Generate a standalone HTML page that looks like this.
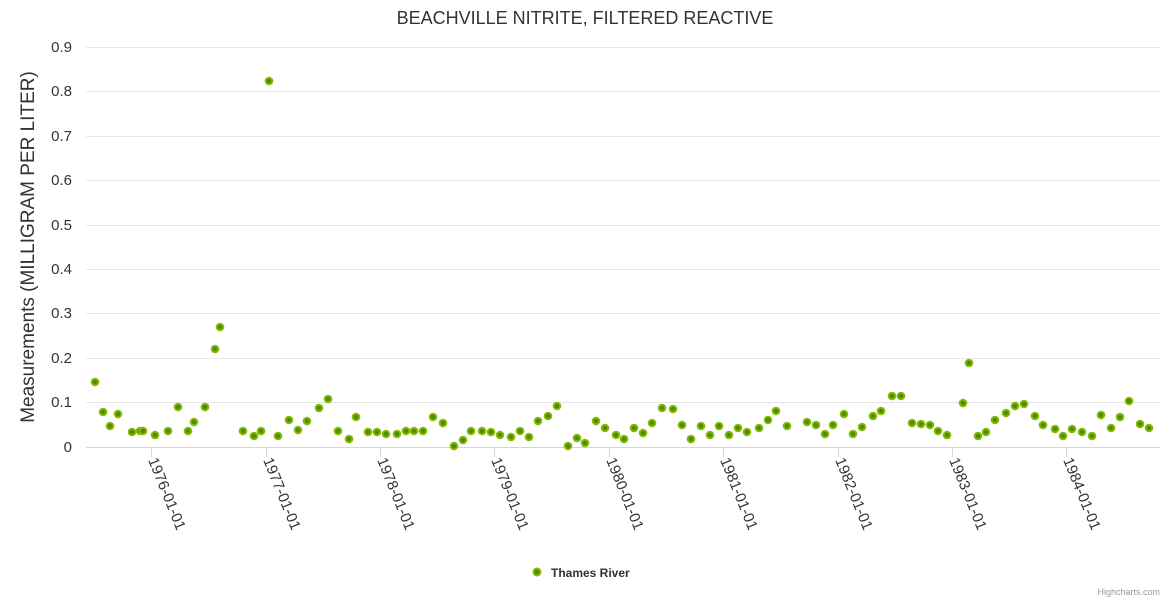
<!DOCTYPE html><html><head><style>body{margin:0;background:#fff}svg{display:block;font-family:"Liberation Sans",sans-serif}</style></head><body>
<svg width="1170" height="600" xmlns="http://www.w3.org/2000/svg">
<text x="585" y="24" text-anchor="middle" font-size="18" fill="#333">BEACHVILLE NITRITE, FILTERED REACTIVE</text>
<g stroke="#e6e6e6" stroke-width="1">
<line x1="86" x2="1160" y1="47.5" y2="47.5"/><line x1="86" x2="1160" y1="91.5" y2="91.5"/><line x1="86" x2="1160" y1="136.5" y2="136.5"/><line x1="86" x2="1160" y1="180.5" y2="180.5"/><line x1="86" x2="1160" y1="225.5" y2="225.5"/><line x1="86" x2="1160" y1="269.5" y2="269.5"/><line x1="86" x2="1160" y1="313.5" y2="313.5"/><line x1="86" x2="1160" y1="358.5" y2="358.5"/><line x1="86" x2="1160" y1="402.5" y2="402.5"/>
</g>
<line x1="86" x2="1160" y1="447.5" y2="447.5" stroke="#ccd6eb"/>
<g stroke="#ccd6eb"><line x1="151.5" x2="151.5" y1="447" y2="457"/><line x1="266.5" x2="266.5" y1="447" y2="457"/><line x1="380.5" x2="380.5" y1="447" y2="457"/><line x1="494.5" x2="494.5" y1="447" y2="457"/><line x1="609.5" x2="609.5" y1="447" y2="457"/><line x1="723.5" x2="723.5" y1="447" y2="457"/><line x1="838.5" x2="838.5" y1="447" y2="457"/><line x1="952.5" x2="952.5" y1="447" y2="457"/><line x1="1066.5" x2="1066.5" y1="447" y2="457"/></g>
<g font-size="15" fill="#333" text-anchor="end">
<text x="72" y="52">0.9</text><text x="72" y="96">0.8</text><text x="72" y="141">0.7</text><text x="72" y="185">0.6</text><text x="72" y="230">0.5</text><text x="72" y="274">0.4</text><text x="72" y="318">0.3</text><text x="72" y="363">0.2</text><text x="72" y="407">0.1</text><text x="72" y="452">0</text>
</g>
<text transform="translate(34,247) rotate(-90)" text-anchor="middle" font-size="19" fill="#333">Measurements (MILLIGRAM PER LITER)</text>
<g font-size="15" fill="#333">
<text transform="translate(148,460) rotate(68)">1976-01-01</text>
<text transform="translate(263,460) rotate(68)">1977-01-01</text>
<text transform="translate(377,460) rotate(68)">1978-01-01</text>
<text transform="translate(491,460) rotate(68)">1979-01-01</text>
<text transform="translate(606,460) rotate(68)">1980-01-01</text>
<text transform="translate(720,460) rotate(68)">1981-01-01</text>
<text transform="translate(835,460) rotate(68)">1982-01-01</text>
<text transform="translate(949,460) rotate(68)">1983-01-01</text>
<text transform="translate(1063,460) rotate(68)">1984-01-01</text>
</g>
<g fill="#4a8c00" stroke="#86b800" stroke-width="2">
<circle cx="95" cy="382" r="3.3"/><circle cx="103" cy="412" r="3.3"/><circle cx="110" cy="426" r="3.3"/><circle cx="118" cy="414" r="3.3"/><circle cx="132" cy="432" r="3.3"/><circle cx="140" cy="431" r="3.3"/><circle cx="143" cy="431" r="3.3"/><circle cx="155" cy="435" r="3.3"/><circle cx="168" cy="431" r="3.3"/><circle cx="178" cy="407" r="3.3"/><circle cx="188" cy="431" r="3.3"/><circle cx="194" cy="422" r="3.3"/><circle cx="205" cy="407" r="3.3"/><circle cx="215" cy="349" r="3.3"/><circle cx="220" cy="327" r="3.3"/><circle cx="243" cy="431" r="3.3"/><circle cx="254" cy="436" r="3.3"/><circle cx="261" cy="431" r="3.3"/><circle cx="269" cy="81" r="3.3"/><circle cx="278" cy="436" r="3.3"/><circle cx="289" cy="420" r="3.3"/><circle cx="298" cy="430" r="3.3"/><circle cx="307" cy="421" r="3.3"/><circle cx="319" cy="408" r="3.3"/><circle cx="328" cy="399" r="3.3"/><circle cx="338" cy="431" r="3.3"/><circle cx="349" cy="439" r="3.3"/><circle cx="356" cy="417" r="3.3"/><circle cx="368" cy="432" r="3.3"/><circle cx="377" cy="432" r="3.3"/><circle cx="386" cy="434" r="3.3"/><circle cx="397" cy="434" r="3.3"/><circle cx="406" cy="431" r="3.3"/><circle cx="414" cy="431" r="3.3"/><circle cx="423" cy="431" r="3.3"/><circle cx="433" cy="417" r="3.3"/><circle cx="443" cy="423" r="3.3"/><circle cx="454" cy="446" r="3.3"/><circle cx="463" cy="440" r="3.3"/><circle cx="471" cy="431" r="3.3"/><circle cx="482" cy="431" r="3.3"/><circle cx="491" cy="432" r="3.3"/><circle cx="500" cy="435" r="3.3"/><circle cx="511" cy="437" r="3.3"/><circle cx="520" cy="431" r="3.3"/><circle cx="529" cy="437" r="3.3"/><circle cx="538" cy="421" r="3.3"/><circle cx="548" cy="416" r="3.3"/><circle cx="557" cy="406" r="3.3"/><circle cx="568" cy="446" r="3.3"/><circle cx="577" cy="438" r="3.3"/><circle cx="585" cy="443" r="3.3"/><circle cx="596" cy="421" r="3.3"/><circle cx="605" cy="428" r="3.3"/><circle cx="616" cy="435" r="3.3"/><circle cx="624" cy="439" r="3.3"/><circle cx="634" cy="428" r="3.3"/><circle cx="643" cy="433" r="3.3"/><circle cx="652" cy="423" r="3.3"/><circle cx="662" cy="408" r="3.3"/><circle cx="673" cy="409" r="3.3"/><circle cx="682" cy="425" r="3.3"/><circle cx="691" cy="439" r="3.3"/><circle cx="701" cy="426" r="3.3"/><circle cx="710" cy="435" r="3.3"/><circle cx="719" cy="426" r="3.3"/><circle cx="729" cy="435" r="3.3"/><circle cx="738" cy="428" r="3.3"/><circle cx="747" cy="432" r="3.3"/><circle cx="759" cy="428" r="3.3"/><circle cx="768" cy="420" r="3.3"/><circle cx="776" cy="411" r="3.3"/><circle cx="787" cy="426" r="3.3"/><circle cx="807" cy="422" r="3.3"/><circle cx="816" cy="425" r="3.3"/><circle cx="825" cy="434" r="3.3"/><circle cx="833" cy="425" r="3.3"/><circle cx="844" cy="414" r="3.3"/><circle cx="853" cy="434" r="3.3"/><circle cx="862" cy="427" r="3.3"/><circle cx="873" cy="416" r="3.3"/><circle cx="881" cy="411" r="3.3"/><circle cx="892" cy="396" r="3.3"/><circle cx="901" cy="396" r="3.3"/><circle cx="912" cy="423" r="3.3"/><circle cx="921" cy="424" r="3.3"/><circle cx="930" cy="425" r="3.3"/><circle cx="938" cy="431" r="3.3"/><circle cx="947" cy="435" r="3.3"/><circle cx="963" cy="403" r="3.3"/><circle cx="969" cy="363" r="3.3"/><circle cx="978" cy="436" r="3.3"/><circle cx="986" cy="432" r="3.3"/><circle cx="995" cy="420" r="3.3"/><circle cx="1006" cy="413" r="3.3"/><circle cx="1015" cy="406" r="3.3"/><circle cx="1024" cy="404" r="3.3"/><circle cx="1035" cy="416" r="3.3"/><circle cx="1043" cy="425" r="3.3"/><circle cx="1055" cy="429" r="3.3"/><circle cx="1063" cy="436" r="3.3"/><circle cx="1072" cy="429" r="3.3"/><circle cx="1082" cy="432" r="3.3"/><circle cx="1092" cy="436" r="3.3"/><circle cx="1101" cy="415" r="3.3"/><circle cx="1111" cy="428" r="3.3"/><circle cx="1120" cy="417" r="3.3"/><circle cx="1129" cy="401" r="3.3"/><circle cx="1140" cy="424" r="3.3"/><circle cx="1149" cy="428" r="3.3"/>
</g>
<circle cx="537" cy="572" r="3.5" fill="#4a8c00" stroke="#86b800" stroke-width="2"/>
<text x="551" y="577" font-size="12" font-weight="bold" fill="#333">Thames River</text>
<text x="1160" y="595" text-anchor="end" font-size="9" fill="#999">Highcharts.com</text>
</svg></body></html>
